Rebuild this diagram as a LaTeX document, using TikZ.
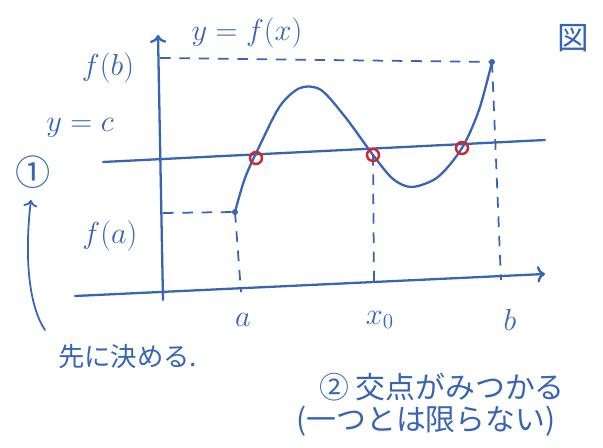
\documentclass[tikz,border=0pt]{standalone}
\usepackage{fontspec}
\newfontfamily\jpfont{Noto Sans CJK JP}
\usepackage{tikz}
\usetikzlibrary{arrows.meta}
\definecolor{penblue}{RGB}{55, 100, 180}
\definecolor{penred}{RGB}{205, 40, 50}

\begin{document}
\begin{tikzpicture}[x=0.02cm, y=-0.02cm,
    pen/.style={penblue, line width=1.3pt, line cap=round},
    guide/.style={penblue, line width=1pt, dashed, dash pattern=on 6pt off 5pt},
    lbl/.style={penblue, font=\fontsize{17}{17}\selectfont},
    jp/.style={penblue, font=\jpfont\fontsize{15}{18}\selectfont}]
    \useasboundingbox (0,0) rectangle (603,448);

    % Axes
    \draw[pen, ->] (163,300) -- (158,35);
    \draw[pen, ->] (75,296) -- (545,274);

    % Level y = c
    \draw[pen] (103,162) -- (545,140);

    % Key points
    \coordinate (fa) at (235,212);
    \coordinate (fb) at (492,62);
    \coordinate (fay) at (163,213);
    \coordinate (fby) at (160,58);
    \coordinate (ax) at (241,292);
    \coordinate (x0) at (373,155);
    \coordinate (x0x) at (374,285);
    \coordinate (bx) at (501,280);

    % Graph of f
    \draw[pen] plot[smooth, tension=0.5] coordinates {(235,212) (245,178) (260,145) (280,106) (300,88) (321,90) (346,118) (373,155) (393,179) (412,187) (438,177) (462,148) (479,110) (492,62)};
    \fill[penblue] (fa) circle (3);
    \fill[penblue] (fb) circle (3);

    % Guides
    \draw[guide] (fay) -- (fa);
    \draw[guide] (fby) -- (fb);
    \draw[guide] (fa) -- (ax);
    \draw[guide] (x0) -- (x0x);
    \draw[guide] (fb) -- (bx);

    % Intersections
    \foreach \p in {(256,158), (373,155), (462,148)}
        \draw[penred, line width=1.4pt] \p circle (6);

    % Labels
    \node[lbl] (yfx) at (247,33) {$y=f(x)$};
    \node[lbl] (fbl) at (108,68) {$f(b)$};
    \node[lbl] (ycl) at (80,128) {$y=c$};
    \node[lbl] (fal) at (110,236) {$f(a)$};
    \node[lbl] (al) at (243,320) {$a$};
    \node[lbl] (x0l) at (380,320) {$x_0$};
    \node[lbl] (bl) at (510,320) {$b$};
    \node[jp, font=\jpfont\fontsize{18}{18}\selectfont] (fig) at (573,38) {図};

    % Step 1
    \node[jp, font=\jpfont\fontsize{20}{20}\selectfont] (one) at (33,172) {①};
    \coordinate (onefoot) at (45,330);
    \draw[pen, line width=1pt, ->] (onefoot) .. controls (25,300) and (26,240) .. (31,200);
    \node[jp, anchor=west] (first) at (52,357) {先に決める.};

    % Step 2
    \node[jp, font=\jpfont\fontsize{17}{20}\selectfont] (two) at (442,387) {② 交点がみつかる};
    \node[jp, font=\jpfont\fontsize{17}{20}\selectfont] (notone) at (426,421) {(一つとは限らない)};
\end{tikzpicture}
\end{document}
